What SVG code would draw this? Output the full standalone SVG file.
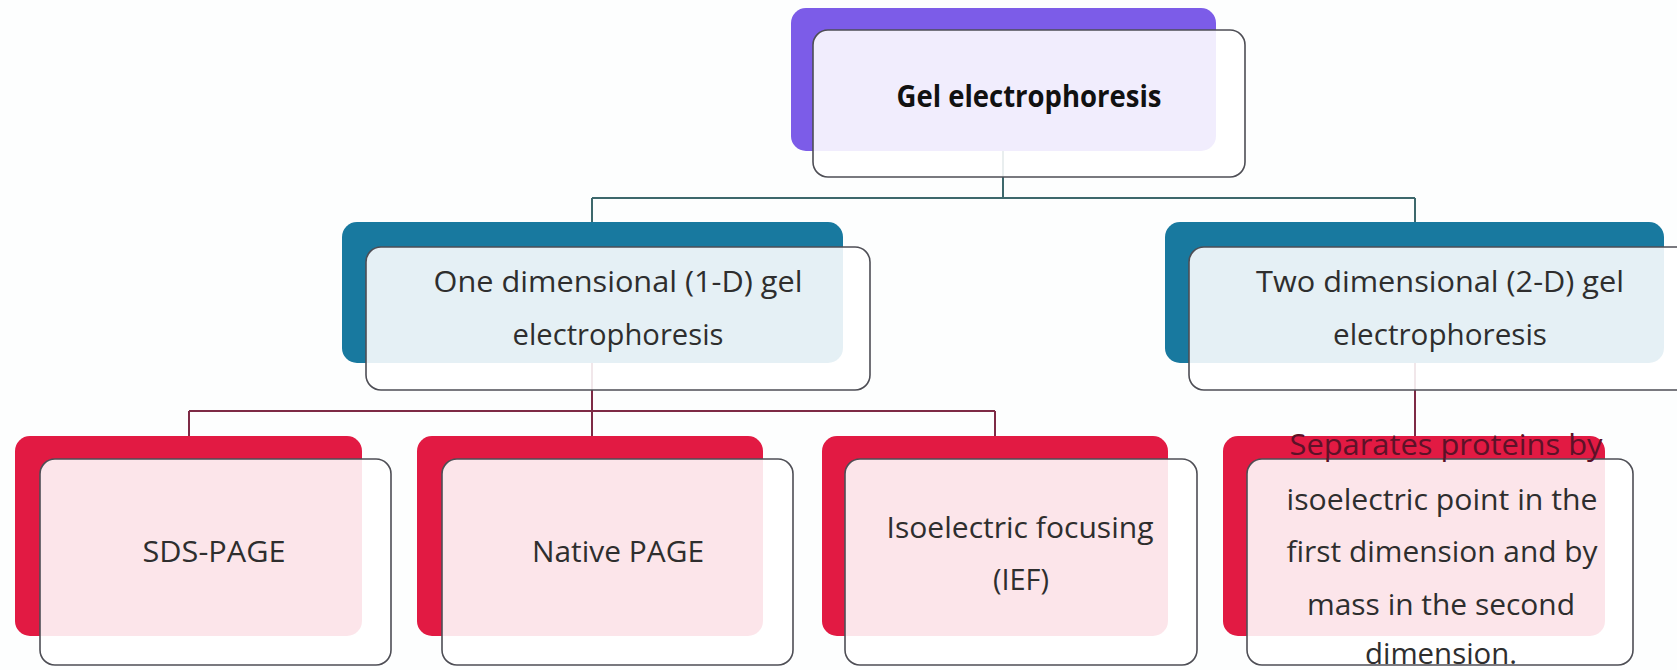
<svg xmlns="http://www.w3.org/2000/svg" width="1677" height="670" viewBox="0 0 1677 670">
  <style>
    .bg { fill: #fdfefe; }
    .conn-top { stroke: #3d686c; stroke-width: 2; fill: none; }
    .conn-low { stroke: #7e2a45; stroke-width: 2; fill: none; }
    .back-purple { fill: #7c5ce8; }
    .back-teal { fill: #18799f; }
    .back-red { fill: #e21a43; }
    .front { fill: #ffffff; fill-opacity: 0.89; stroke: #4e4e55; stroke-width: 1.6; }
    .t { font-family: "Open Sans", "Noto Sans", "DejaVu Sans", sans-serif; font-size: 29px; fill: #2e2e2e; text-anchor: middle; }
    .tb { font-family: "Open Sans", "Noto Sans", "DejaVu Sans", sans-serif; font-size: 31px; font-weight: bold; fill: #111111; text-anchor: middle; }
  </style>
  <rect class="bg" x="0" y="0" width="1677" height="670"/>

  <g id="connectors">
    <path class="conn-top" d="M1003 151 V198 M592 198 H1415 M592 198 V222 M1415 198 V222"/>
    <path class="conn-low" d="M592 363 V411 M189 411 H995 M189 411 V436 M592 411 V436 M995 411 V436"/>
    <path class="conn-low" d="M1415 363 V436"/>
  </g>

  <g id="node-gel">
    <rect class="back-purple" x="791" y="8" width="425" height="143" rx="15"/>
    <rect class="front" x="813" y="30" width="432" height="147" rx="15"/>
    <text class="tb" x="1029" y="107" textLength="265" lengthAdjust="spacingAndGlyphs">Gel electrophoresis</text>
  </g>

  <g id="node-1d">
    <rect class="back-teal" x="342" y="222" width="501" height="141" rx="15"/>
    <rect class="front" x="366" y="247" width="504" height="143" rx="15"/>
    <text class="t" x="618" y="292" textLength="369" lengthAdjust="spacingAndGlyphs">One dimensional (1-D) gel</text>
    <text class="t" x="618" y="345" textLength="211" lengthAdjust="spacingAndGlyphs">electrophoresis</text>
  </g>

  <g id="node-2d">
    <rect class="back-teal" x="1165" y="222" width="499" height="141" rx="15"/>
    <rect class="front" x="1189" y="247" width="504" height="143" rx="15"/>
    <text class="t" x="1440" y="292" textLength="368" lengthAdjust="spacingAndGlyphs">Two dimensional (2-D) gel</text>
    <text class="t" x="1440" y="345" textLength="214" lengthAdjust="spacingAndGlyphs">electrophoresis</text>
  </g>

  <g id="node-sds">
    <rect class="back-red" x="15" y="436" width="347" height="200" rx="15"/>
    <rect class="front" x="40" y="459" width="351" height="206" rx="15"/>
    <text class="t" x="214" y="562" textLength="143" lengthAdjust="spacingAndGlyphs">SDS-PAGE</text>
  </g>

  <g id="node-native">
    <rect class="back-red" x="417" y="436" width="346" height="200" rx="15"/>
    <rect class="front" x="442" y="459" width="351" height="206" rx="15"/>
    <text class="t" x="618" y="562" textLength="172" lengthAdjust="spacingAndGlyphs">Native PAGE</text>
  </g>

  <g id="node-ief">
    <rect class="back-red" x="822" y="436" width="346" height="200" rx="15"/>
    <rect class="front" x="845" y="459" width="352" height="206" rx="15"/>
    <text class="t" x="1020" y="538" textLength="267" lengthAdjust="spacingAndGlyphs">Isoelectric focusing</text>
    <text class="t" x="1021" y="590" textLength="56" lengthAdjust="spacingAndGlyphs">(IEF)</text>
  </g>

  <g id="node-2d-desc">
    <rect class="back-red" x="1223" y="436" width="382" height="200" rx="15"/>
    <rect class="front" x="1247" y="459" width="386" height="206" rx="15"/>
    <text class="t" x="1446" y="455" textLength="313" lengthAdjust="spacingAndGlyphs" style="fill:#5c1228">Separates proteins by</text>
    <text class="t" x="1442" y="510" textLength="311" lengthAdjust="spacingAndGlyphs">isoelectric point in the</text>
    <text class="t" x="1442" y="562" textLength="311" lengthAdjust="spacingAndGlyphs">first dimension and by</text>
    <text class="t" x="1441" y="615" textLength="268" lengthAdjust="spacingAndGlyphs">mass in the second</text>
    <text class="t" x="1441" y="664" textLength="152" lengthAdjust="spacingAndGlyphs">dimension.</text>
  </g>
</svg>
